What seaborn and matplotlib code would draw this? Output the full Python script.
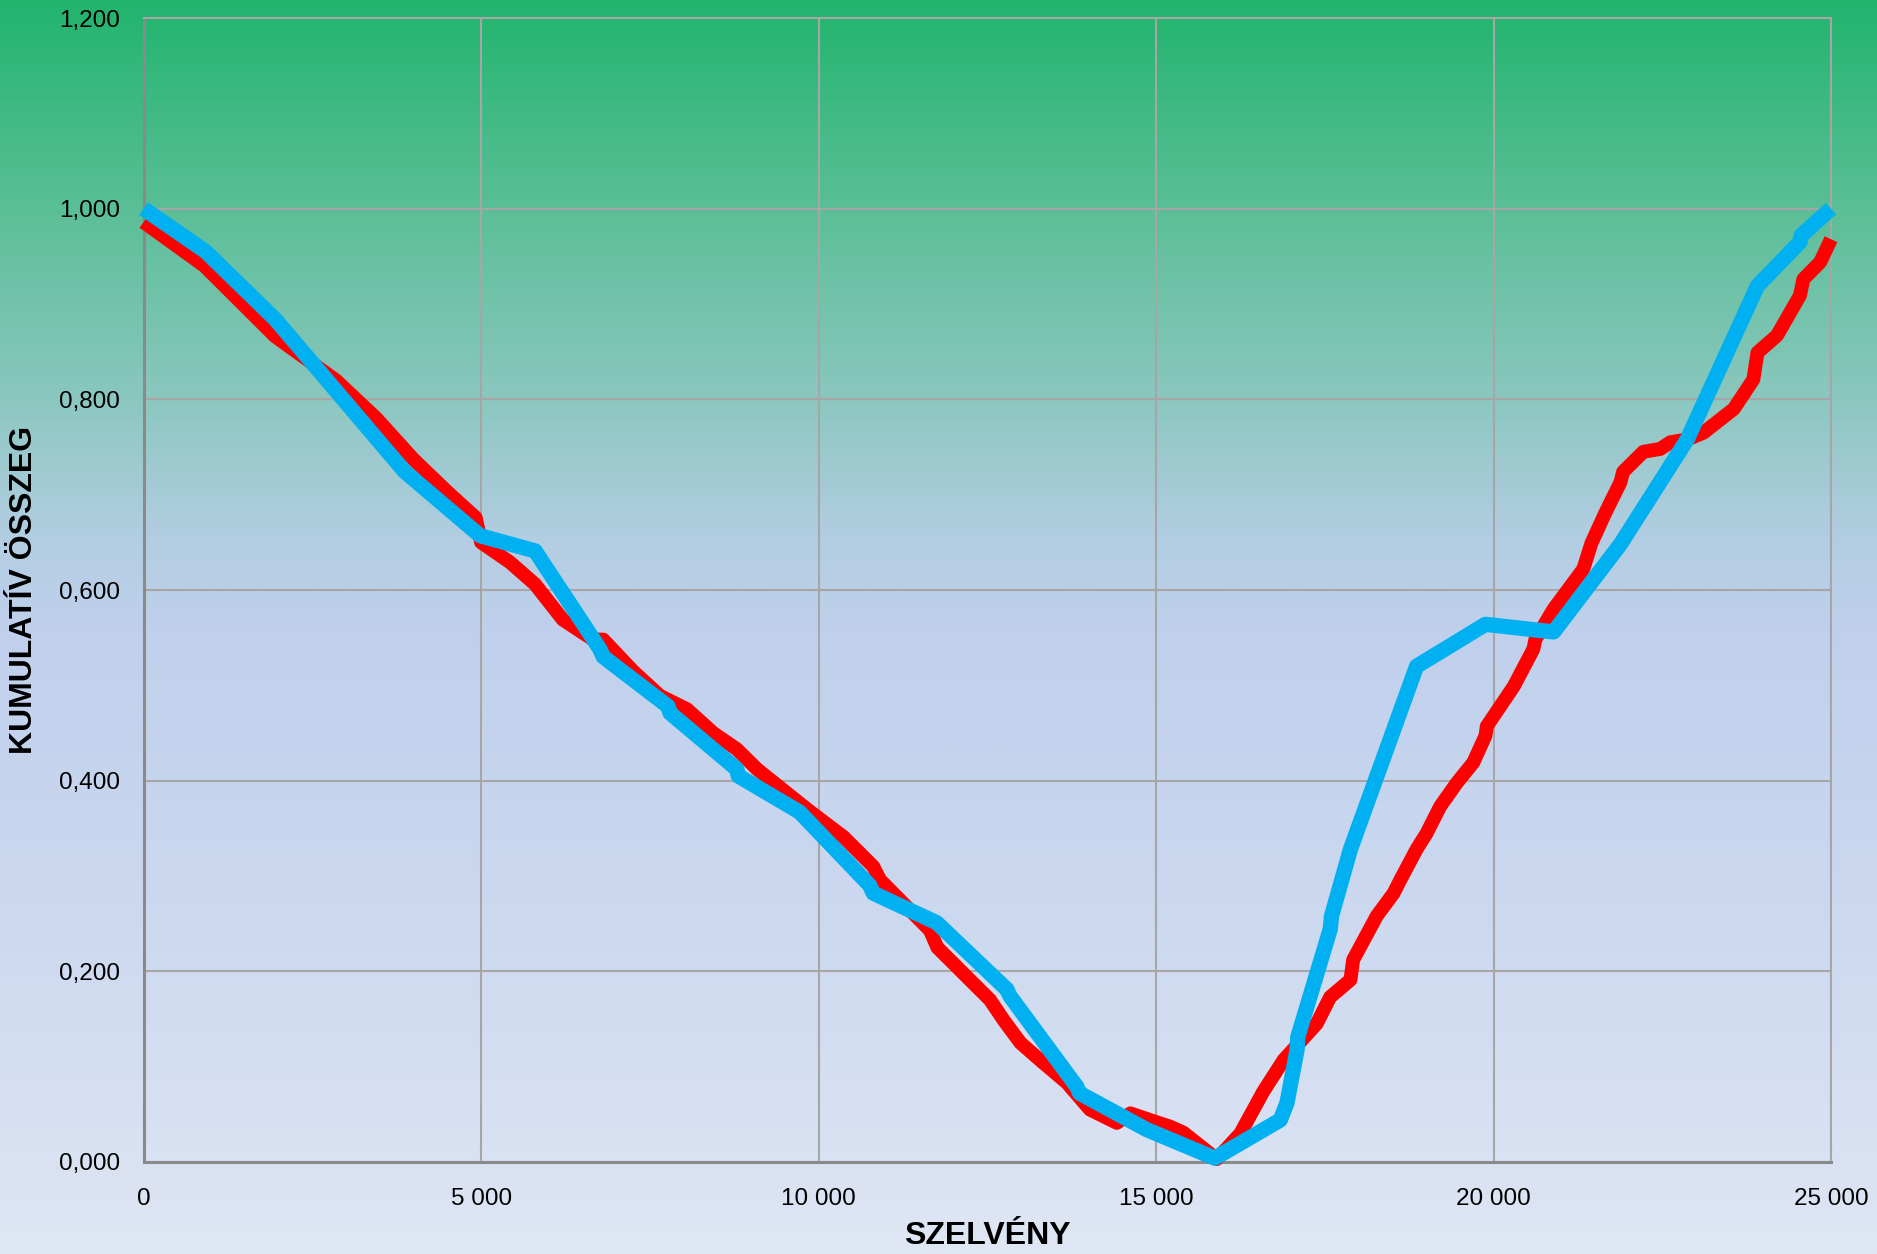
import numpy as np
import pandas as pd
import matplotlib
matplotlib.use("Agg")
import matplotlib.pyplot as plt
from matplotlib.colors import LinearSegmentedColormap
from matplotlib.ticker import FuncFormatter, MultipleLocator
import seaborn as sns

# Section positions (m) and cumulative sums for the two series
red_x = [0, 900, 1950, 2850, 3450, 4000, 4500, 4920, 5000, 5430, 5800, 6210,
         6660, 6810, 7250, 7650, 8050, 8440, 8790, 9090, 9830, 10370, 10810,
         10910, 11650, 11760, 12540, 12740, 12990, 13280, 13680, 14020, 14420,
         14620, 14910, 15210, 15400, 15900, 16250, 16590, 16890, 17380, 17580,
         17880, 17920, 18270, 18520, 18620, 18860, 19010, 19210, 19460, 19700,
         19880, 19900, 20300, 20590, 20620, 20890, 21330, 21450, 21650, 21880,
         21920, 22220, 22470, 22620, 22870, 23110, 23560, 23850, 23910, 24200,
         24540, 24590, 24840, 25000]
red_y = [0.986, 0.940, 0.866, 0.820, 0.780, 0.737, 0.703, 0.676, 0.650, 0.629,
         0.606, 0.569, 0.548, 0.548, 0.515, 0.489, 0.475, 0.450, 0.433, 0.412,
         0.370, 0.341, 0.310, 0.296, 0.243, 0.225, 0.170, 0.149, 0.125, 0.107,
         0.083, 0.055, 0.041, 0.051, 0.044, 0.037, 0.031, 0.003, 0.030, 0.074,
         0.107, 0.145, 0.173, 0.191, 0.212, 0.258, 0.282, 0.296, 0.328, 0.345,
         0.373, 0.398, 0.419, 0.447, 0.457, 0.499, 0.538, 0.548, 0.580, 0.622,
         0.649, 0.680, 0.713, 0.724, 0.745, 0.748, 0.755, 0.758, 0.765, 0.790,
         0.821, 0.849, 0.867, 0.909, 0.926, 0.944, 0.968]

blue_x = [0, 920, 1950, 3865, 4984, 5800, 6760, 6810, 7770, 7800, 8790, 8810,
          9720, 10760, 10810, 11750, 12790, 12836, 13825, 13870, 14860, 15870,
          16840, 16940, 17090, 17100, 17580, 17600, 17880, 18860, 19880, 20890,
          21880, 22870, 23910, 24540, 24560, 25000]
blue_y = [1.000, 0.955, 0.884, 0.7245, 0.657, 0.641, 0.538, 0.530, 0.478, 0.471,
          0.412, 0.405, 0.367, 0.290, 0.282, 0.251, 0.181, 0.174, 0.079, 0.072,
          0.034, 0.004, 0.044, 0.062, 0.118, 0.131, 0.244, 0.258, 0.328, 0.520,
          0.564, 0.556, 0.648, 0.758, 0.919, 0.965, 0.972, 1.000]

x_label = "SZELVÉNY"
y_label = "KUMULATÍV ÖSSZEG"

sns.set_theme(style="white")
plt.rcParams["font.family"] = ["Liberation Sans", "DejaVu Sans"]

fig = plt.figure(figsize=(18.77, 12.54), dpi=100)

# Full-figure vertical gradient background
bg = fig.add_axes([0, 0, 1, 1], zorder=-10)
stops = [(0.0, "#22b46e"), (0.17, "#5cbf98"), (0.32, "#8cc7c0"),
         (0.42, "#b0cde0"), (0.50, "#c0d0ec"), (0.70, "#cad7ef"),
         (1.0, "#dfe6f4")]
cmap = LinearSegmentedColormap.from_list("bg", stops)
grad = np.linspace(0, 1, 512).reshape(-1, 1)
bg.imshow(grad, aspect="auto", cmap=cmap, extent=[0, 1, 0, 1], origin="upper")
bg.set_axis_off()

ax = fig.add_axes([0.0765, 0.0734, 0.8990, 0.9122])
ax.set_facecolor("none")

red_df = pd.DataFrame({"x": red_x, "y": red_y})
blue_df = pd.DataFrame({"x": blue_x, "y": blue_y})

sns.lineplot(data=red_df, x="x", y="y", ax=ax, color="#ff0000", lw=10,
             sort=False, estimator=None, solid_joinstyle="round",
             solid_capstyle="butt", clip_on=False, zorder=3)
sns.lineplot(data=blue_df, x="x", y="y", ax=ax, color="#00b0f0", lw=11,
             sort=False, estimator=None, solid_joinstyle="round",
             solid_capstyle="butt", clip_on=False, zorder=4)

ax.set_xlim(0, 25000)
ax.set_ylim(0, 1.2)
ax.xaxis.set_major_locator(MultipleLocator(5000))
ax.yaxis.set_major_locator(MultipleLocator(0.2))
ax.xaxis.set_major_formatter(FuncFormatter(lambda v, p: f"{int(round(v)):,}".replace(",", " ")))
ax.yaxis.set_major_formatter(FuncFormatter(lambda v, p: f"{v:.3f}".replace(".", ",")))

ax.grid(True, color="#a6a6a6", lw=1.5, zorder=0)
ax.set_axisbelow(True)
for side in ["top", "right"]:
    ax.spines[side].set_color("#a6a6a6")
    ax.spines[side].set_linewidth(1.5)
for side in ["left", "bottom"]:
    ax.spines[side].set_color("#8a8a8a")
    ax.spines[side].set_linewidth(2.2)

ax.tick_params(axis="both", length=0, labelsize=17.5, colors="black")
ax.tick_params(axis="x", pad=19)
ax.tick_params(axis="y", pad=17)

ax.set_xlabel(x_label, fontsize=23, fontweight="bold", labelpad=8, color="black")
ax.set_ylabel(y_label, fontsize=23, fontweight="bold", labelpad=14, color="black")

fig.savefig("out.png", dpi=100)
